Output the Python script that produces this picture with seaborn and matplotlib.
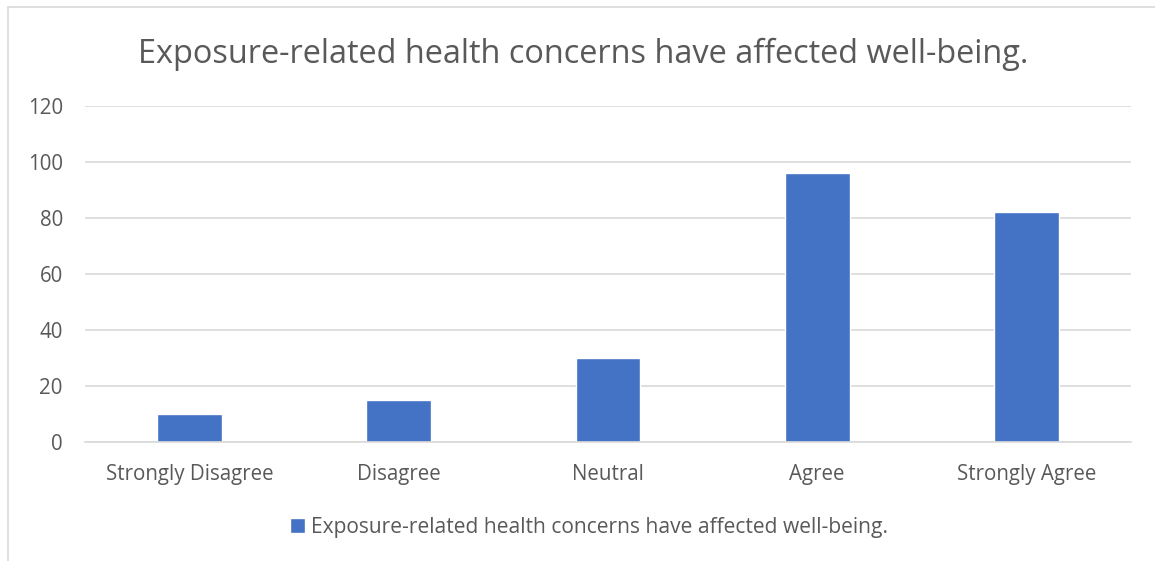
import pandas as pd
import seaborn as sns
import matplotlib.pyplot as plt
from matplotlib.lines import Line2D

categories = ["Strongly Disagree", "Disagree", "Neutral", "Agree", "Strongly Agree"]
counts = [10, 15, 30, 96, 82]
yticks = [0, 20, 40, 60, 80, 100, 120]
title = "Exposure-related health concerns have affected well-being."

sns.set_style("white")
plt.rcParams['font.family'] = ['Open Sans', 'DejaVu Sans']
text_color = "#595959"
W, H = 1155, 561

df = pd.DataFrame({"Response": categories, "Count": counts})

fig = plt.figure(figsize=(11.55, 5.61), dpi=100)
ax = fig.add_axes([85 / W, 1 - 442 / H, (1131 - 85) / W, (442 - 106) / H])

sns.barplot(data=df, x="Response", y="Count", color="#4472C4", width=0.31,
            saturation=1, ax=ax, label=title)

ax.set_ylim(0, 120)
ax.set_yticks(yticks)
ax.set_xlim(-0.5, len(categories) - 0.5)
ax.yaxis.grid(True, color="#D9D9D9", linewidth=1.2)
ax.set_axisbelow(True)
for s in ["top", "right", "left"]:
    ax.spines[s].set_visible(False)
ax.spines["bottom"].set_color("#D9D9D9")
ax.spines["bottom"].set_linewidth(1.2)
ax.tick_params(axis="x", length=0, labelsize=14.8, labelcolor=text_color, pad=16)
ax.tick_params(axis="y", length=0, labelsize=14.8, labelcolor=text_color, pad=16)
ax.set_xlabel("")
ax.set_ylabel("")

fig.text(0.505, 1 - 54 / H, title, ha="center", va="center", fontsize=23.4, color=text_color)

ax.legend(loc="center", bbox_to_anchor=(0.482, -0.255), frameon=False, fontsize=15.1,
          labelcolor=text_color, handlelength=0.7, handleheight=0.7, handletextpad=0.3)

# chart-area border (only top and left edges visible in the crop)
fig.add_artist(Line2D([8 / W, 1], [1 - 7 / H, 1 - 7 / H], transform=fig.transFigure,
                      color="#D9D9D9", linewidth=1.2))
fig.add_artist(Line2D([8 / W, 8 / W], [0, 1 - 7 / H], transform=fig.transFigure,
                      color="#D9D9D9", linewidth=1.2))

fig.savefig("out.png", dpi=100)
